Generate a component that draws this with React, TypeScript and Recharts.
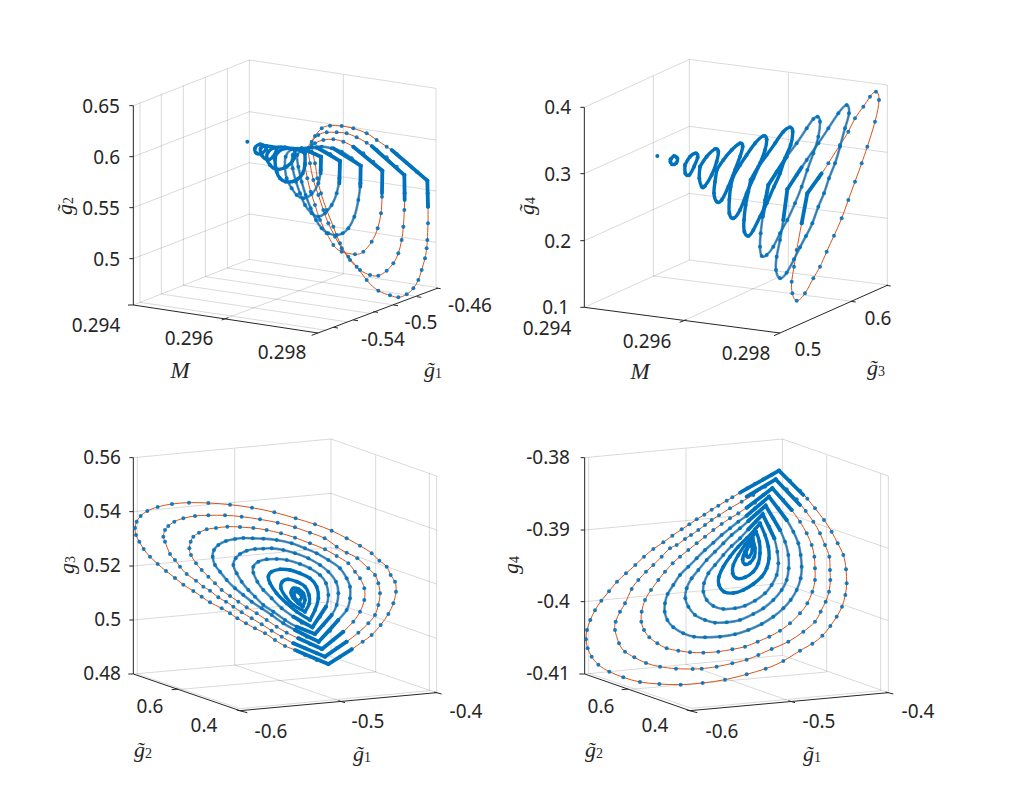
import { ScatterChart, Scatter, XAxis, YAxis, ReferenceLine } from 'recharts';

type Pt = [number, number];
type Seg = [number, number, number, number];

const BLUE = '#0072BD';
const ORANGE = '#D95319';
const INK = '#262626';

// all curve values below are projected positions (3 units = 1px)

// ---------- top left: M, g1, g2 ----------
const loopsA: Pt[][] = [
  [[922,392],[890,365],[860,338],[830,312],[800,290],[770,270],[740,250],[700,235],[665,228],[630,227],[605,235],[585,258],[575,285],[585,340],[592,385],[603,430],[620,480],[640,530],[660,580],[685,620],[710,650],[740,690],[775,722],[810,736],[835,742],[860,733],[880,715],[895,690],[905,660],[915,625],[920,595],[922,570],[924,520],[924,470],[923,430],[922,392]],
  [[853,375],[830,350],[800,322],[770,300],[740,278],[710,262],[680,250],[650,247],[620,247],[595,255],[575,275],[565,295],[570,340],[580,390],[595,435],[610,480],[625,520],[645,560],[665,595],[690,630],[720,660],[750,675],[775,677],[800,662],[820,640],[835,610],[845,570],[850,530],[853,480],[854,430],[853,375]],
  [[787,362],[760,335],[730,310],[700,290],[670,275],[640,268],[610,270],[585,280],[565,295],[553,305],[555,345],[562,385],[572,425],[585,465],[600,510],[620,550],[640,585],[665,605],[705,613],[730,605],[755,575],[773,535],[783,490],[786,440],[787,362]],
  [[722,347],[695,325],[665,305],[635,295],[605,290],[575,292],[550,300],[532,315],[535,350],[545,395],[557,435],[572,475],[588,510],[605,535],[625,550],[650,555],[668,550],[685,535],[703,500],[715,450],[721,400],[722,347]],
  [[660,333],[630,312],[600,298],[570,293],[540,297],[518,315],[518,355],[528,395],[540,430],[555,465],[575,490],[595,500],[615,490],[635,465],[650,430],[658,385],[660,333]],
  [[603,320],[575,305],[545,295],[515,298],[497,320],[495,350],[500,385],[515,415],[530,435],[550,445],[575,432],[595,400],[602,360],[603,320]],
];
const innerA: Pt[][] = [
  [[555,310],[530,297],[500,295],[475,305],[465,330],[470,365],[480,385],[497,395],[525,392],[548,370],[555,340],[555,310]],
  [[525,300],[495,292],[465,293],[445,305],[440,325],[450,345],[470,358],[500,350],[522,325],[525,300]],
  [[470,293],[440,288],[422,295],[425,315],[440,328],[458,322],[470,300]],
  [[440,290],[420,283],[405,295],[410,310],[425,310],[438,298],[440,290]],
];
const bendsA: Pt[][] = [
  [[815,300],[922,392],[924,470]],
  [[755,288],[853,375],[854,450]],
  [[700,290],[787,362],[786,430]],
  [[640,295],[722,347],[721,410]],
  [[590,292],[660,333],[658,400]],
  [[545,295],[603,320],[602,370]],
];
const startA: Pt[] = [[382,275]];

// ---------- top right: M, g3, g4 ----------
const loopsB: Pt[][] = [
  [[712,430],[745,385],[775,340],[810,285],[835,245],[855,205],[880,170],[900,140],[918,125],[927,150],[915,215],[892,290],[875,340],[855,395],[835,450],[815,505],[792,557],[770,605],[750,650],[730,685],[705,730],[680,752],[667,730],[665,695],[672,650],[680,600],[695,520],[712,430]],
  [[652,418],[680,375],[710,330],[745,280],[775,235],[805,190],[830,165],[837,190],[825,235],[810,290],[795,340],[777,385],[762,430],[745,470],[727,520],[708,558],[690,592],[672,628],[650,668],[630,685],[618,660],[620,620],[630,570],[640,510],[652,418]],
  [[595,405],[620,365],[650,320],[680,280],[710,235],[730,207],[743,200],[750,215],[745,260],[730,310],[712,360],[695,410],[675,460],[652,510],[630,550],[610,590],[590,615],[575,618],[570,590],[572,550],[578,500],[585,450],[595,405]],
];
const innerB: Pt[][] = [
  [[542,390],[565,350],[590,315],[615,280],[640,245],[660,232],[668,245],[662,285],[645,325],[630,370],[612,410],[590,460],[570,500],[550,540],[535,558],[523,545],[522,510],[527,465],[535,425],[542,390]],
  [[490,378],[510,345],[530,315],[555,280],[580,258],[590,268],[585,300],[570,340],[550,385],[530,430],[510,480],[490,505],[478,490],[478,450],[482,410],[490,378]],
  [[440,360],[460,330],[485,300],[510,280],[518,290],[510,320],[495,360],[475,410],[455,450],[440,455],[432,430],[435,395],[440,360]],
  [[390,350],[410,320],[435,297],[445,305],[440,335],[425,375],[405,408],[395,410],[388,385],[390,350]],
  [[345,345],[360,320],[378,310],[383,322],[372,350],[358,375],[346,370],[345,345]],
  [[302,328],[312,318],[322,325],[318,340],[306,343],[301,335],[302,328]],
];
const bendsB: Pt[][] = [
  [[695,520],[712,430],[755,370]],
  [[640,510],[652,418],[695,352]],
  [[578,500],[595,405],[650,320]],
];
const startB: Pt[] = [[262,318]];

// ---------- bottom left: g1, g2, g3 ----------
const loopsC: Pt[][] = [
  [[625,672],[660,650],[695,628],[728,605],[755,585],[782,555],[805,522],[820,490],[828,455],[825,425],[812,405],[800,380],[778,362],[755,340],[720,317],[680,295],[635,272],[585,253],[527,235],[463,217],[396,203],[330,194],[265,189],[207,188],[156,192],[113,201],[82,213],[62,228],[50,245],[45,264],[48,285],[58,305],[71,327],[90,350],[113,372],[138,393],[165,414],[190,434],[220,453],[245,470],[270,487],[305,505],[330,520],[352,535],[378,550],[405,565],[435,580],[465,600],[495,618],[525,630],[555,645],[590,660],[625,672]],
  [[615,650],[650,625],[680,605],[715,578],[745,550],[765,525],[775,495],[780,460],[775,430],[765,405],[745,385],[712,355],[680,338],[650,320],[614,295],[570,278],[525,262],[473,248],[420,238],[365,230],[315,226],[265,226],[225,228],[190,235],[163,245],[145,258],[135,270],[130,290],[135,305],[150,342],[165,360],[180,380],[200,402],[228,422],[250,440],[270,452],[295,472],[318,485],[340,500],[365,517],[395,535],[425,553],[455,572],[485,590],[520,610],[555,625],[590,640],[615,650]],
  [[606,627],[640,600],[670,575],[700,545],[720,515],[733,480],[733,445],[720,415],[705,395],[685,370],[650,348],[615,328],[570,310],[525,293],[483,280],[440,270],[400,264],[360,261],[322,260],[288,264],[260,268],[237,278],[220,290],[212,305],[208,325],[213,345],[228,370],[245,390],[265,410],[285,430],[305,450],[330,468],[355,485],[380,502],[410,520],[440,540],[470,560],[500,578],[535,595],[570,612],[606,627]],
  [[596,605],[630,572],[655,540],[680,510],[690,475],[690,440],[680,415],[660,385],[625,360],[590,340],[555,325],[515,310],[470,300],[430,296],[398,295],[370,294],[345,297],[318,303],[295,315],[282,330],[278,350],[285,375],[300,395],[320,420],[345,445],[370,465],[395,485],[425,505],[455,525],[490,550],[525,570],[560,590],[596,605]],
  [[585,582],[610,555],[635,525],[650,495],[655,460],[648,425],[625,395],[600,375],[565,355],[525,340],[490,330],[455,325],[430,326],[405,327],[380,332],[360,342],[347,355],[340,375],[350,400],[365,425],[385,450],[405,470],[430,495],[460,515],[495,540],[530,560],[585,582]],
  [[577,562],[600,530],[618,500],[625,465],[618,430],[600,405],[570,385],[540,372],[500,360],[470,357],[440,358],[415,365],[400,380],[400,398],[412,425],[430,450],[455,475],[485,505],[520,530],[545,548],[577,562]],
];
const innerC: Pt[][] = [
  [[570,540],[585,510],[595,475],[590,440],[570,415],[540,400],[510,390],[480,388],[455,395],[445,410],[450,430],[470,460],[500,490],[530,515],[570,540]],
  [[555,515],[568,490],[567,465],[555,440],[530,425],[505,418],[487,425],[483,445],[497,470],[520,495],[555,515]],
  [[548,500],[555,480],[550,460],[535,447],[520,445],[513,458],[520,475],[535,490],[548,500]],
  [[540,480],[545,470],[535,457],[525,455],[522,465],[530,480],[540,490]],
];
const bendsC: Pt[][] = [
  [[530,632],[625,672],[695,628]],
  [[520,610],[615,650],[680,605]],
  [[535,595],[606,627],[670,575]],
  [[525,570],[596,605],[655,540]],
  [[530,560],[585,582],[635,525]],
  [[520,530],[577,562],[618,500]],
];

// ---------- bottom right: g1, g2, g4 ----------
const loopsD: Pt[][] = [
  [[627,92],[660,122],[690,152],[712,176],[735,205],[762,240],[785,275],[803,310],[820,345],[828,388],[830,430],[826,465],[816,500],[800,530],[781,558],[757,587],[727,611],[690,632],[640,663],[587,686],[530,703],[465,719],[398,729],[332,734],[268,732],[210,726],[160,712],[118,695],[85,674],[65,650],[53,625],[48,598],[51,570],[61,540],[75,511],[94,482],[117,454],[141,425],[168,400],[196,375],[222,350],[250,327],[280,307],[307,287],[335,268],[358,253],[380,238],[403,224],[425,209],[445,197],[470,182],[487,172],[510,158],[532,145],[555,131],[580,118],[605,104],[627,92]],
  [[617,118],[650,148],[680,178],[707,213],[730,245],[750,280],[765,315],[778,350],[780,390],[781,420],[777,455],[767,485],[752,515],[735,545],[700,575],[655,605],[605,627],[565,645],[530,659],[487,670],[440,680],[395,686],[368,687],[318,686],[270,680],[228,669],[193,652],[165,635],[147,610],[135,570],[137,545],[150,515],[165,490],[185,447],[205,420],[228,395],[250,375],[275,350],[300,325],[320,315],[345,297],[363,285],[385,270],[405,255],[425,240],[447,226],[480,205],[515,185],[550,165],[585,140],[617,118]],
  [[607,145],[640,180],[665,210],[690,245],[710,280],[725,315],[733,350],[735,385],[735,420],[727,455],[712,490],[690,520],[660,550],[630,572],[598,590],[563,605],[525,620],[487,628],[445,635],[400,638],[360,637],[325,632],[290,625],[262,610],[238,592],[222,570],[214,545],[215,515],[225,480],[243,450],[265,420],[285,395],[308,370],[330,350],[355,330],[380,310],[405,290],[430,270],[455,252],[480,235],[505,220],[530,203],[555,188],[580,165],[607,145]],
  [[597,170],[625,205],[650,240],[670,275],[685,310],[692,345],[695,380],[692,415],[680,450],[662,480],[640,505],[610,530],[575,552],[535,570],[495,583],[450,590],[405,592],[372,590],[340,580],[310,562],[292,540],[284,515],[285,490],[293,462],[310,435],[330,405],[355,380],[380,355],[405,330],[430,308],[455,285],[480,265],[505,245],[530,227],[555,205],[580,185],[597,170]],
  [[587,197],[610,235],[630,270],[645,305],[655,345],[656,385],[650,420],[635,450],[610,480],[580,505],[550,522],[510,540],[470,547],[435,548],[405,540],[375,525],[355,500],[346,475],[350,445],[365,415],[385,390],[410,360],[435,335],[460,310],[485,285],[510,265],[535,243],[560,220],[587,197]],
  [[578,223],[598,260],[613,295],[622,335],[625,370],[620,405],[605,435],[585,460],[555,482],[525,497],[495,505],[460,507],[430,498],[410,480],[400,455],[402,430],[415,400],[435,375],[460,345],[485,318],[510,295],[535,268],[558,245],[578,223]],
];
const innerD: Pt[][] = [
  [[570,250],[585,285],[595,320],[597,355],[590,385],[575,410],[550,432],[520,450],[490,459],[462,455],[447,435],[447,410],[460,380],[480,350],[505,320],[530,295],[555,268],[570,250]],
  [[558,275],[568,305],[570,340],[565,370],[550,395],[525,412],[500,415],[488,400],[490,375],[505,345],[525,315],[545,293],[558,275]],
  [[548,295],[555,325],[553,350],[540,368],[525,373],[518,358],[525,335],[538,312],[548,295]],
  [[543,310],[547,330],[538,350],[530,348],[530,330],[538,318],[543,310]],
];
const bendsD: Pt[][] = [
  [[515,155],[627,92],[700,165]],
  [[530,170],[617,118],[690,195]],
  [[530,203],[607,145],[665,210]],
  [[530,227],[597,170],[650,240]],
  [[535,243],[587,197],[630,270]],
  [[535,268],[578,223],[613,295]],
];

// ---------- axes box (light grid lines, dark axis lines and ticks) ----------
const gridA: Seg[] = [
  [40,167,388,30],[388,30,948,115],[388,30,388,628],[948,115,948,712],[670,74,670,672],
  [60,158,60,757],[124,133,124,732],[190,107,190,706],[256,81,256,680],[322,56,322,654],
  [40,320,388,185],[40,473,388,338],[40,626,388,492],[40,765,388,628],
  [388,185,948,270],[388,338,948,423],[388,492,948,577],[388,628,948,712],
  [322,654,882,738],[256,680,816,764],[190,706,750,790],[124,732,684,816],[60,757,620,841],[670,672,315,806],
];
const axisA: Seg[] = [
  [40,167,40,765],[40,765,594,849],[594,849,954,714],
  [28,167,40,167],[28,320,40,320],[28,473,40,473],[28,626,40,626],[24,765,40,765],
  [305,810,325,803],[575,856,594,849],
  [640,832,654,834],[700,810,714,812],[760,785,774,787],[820,765,834,767],[890,740,904,742],[948,714,962,716],
];
const gridB: Seg[] = [
  [43,172,358,28],[358,28,952,105],[358,28,358,630],[952,105,952,705],[655,68,655,668],[250,78,250,678],
  [43,371,358,229],[43,572,358,430],[43,772,358,630],
  [358,229,952,307],[358,430,952,505],[358,630,952,705],
  [250,678,855,755],[655,668,339,813],
];
const axisB: Seg[] = [
  [43,172,43,772],[43,772,630,849],[630,849,954,705],
  [31,172,43,172],[31,371,43,371],[31,572,43,572],[31,772,43,772],
  [329,817,349,809],[612,857,630,849],
  [843,754,857,756],[948,706,962,708],
];
const gridC: Seg[] = [
  [40,53,633,-3],[633,-3,950,108],[633,-3,633,650],[950,108,950,758],
  [52,52,52,702],[344,26,344,675],[767,46,767,696],[928,100,928,752],
  [40,215,633,160],[40,378,633,323],[40,540,633,485],[40,702,633,650],
  [633,160,950,270],[633,323,950,432],[633,485,950,595],[633,650,950,758],
  [344,675,665,785],[160,750,767,696],[52,702,360,806],[360,806,928,752],
];
const axisC: Seg[] = [
  [40,53,40,702],[40,702,360,812],[360,812,950,758],
  [28,53,40,53],[28,215,40,215],[28,378,40,378],[28,540,40,540],[25,702,40,702],
  [155,749,175,747],[350,810,382,818],[655,782,675,788],[942,756,965,762],
];
const gridD: Seg[] = [
  [44,53,637,-3],[637,-3,955,108],[637,-3,637,646],[955,108,955,758],
  [56,52,56,700],[348,26,348,673],[770,46,770,696],[932,100,932,752],
  [44,270,637,215],[44,485,637,430],[44,702,637,646],
  [637,215,955,325],[637,430,955,542],[637,646,955,758],
  [348,673,650,780],[160,750,770,696],[56,700,365,805],[365,805,932,752],
];
const axisD: Seg[] = [
  [44,53,44,702],[44,702,360,812],[360,812,955,758],
  [32,53,44,53],[32,270,44,270],[32,485,44,485],[28,702,44,702],
  [155,749,175,747],[350,810,382,818],[655,782,675,788],[947,756,970,762],
];

// ---------- text ----------
const ticksA = ['0.65', '0.6', '0.55', '0.5', '0.294', '0.296', '0.298', '-0.54', '-0.5', '-0.46'];
const ticksB = ['0.4', '0.3', '0.2', '0.1', '0.294', '0.296', '0.298', '0.5', '0.6'];
const ticksC = ['0.56', '0.54', '0.52', '0.5', '0.48', '0.6', '0.4', '-0.6', '-0.5', '-0.4'];
const ticksD = ['-0.38', '-0.39', '-0.4', '-0.41', '0.6', '0.4', '-0.6', '-0.5', '-0.4'];

// page pixels of each tick label: x, y, anchor
const tickPosA: [number, number, string][] = [[120,106,'end'],[120,157,'end'],[120,208,'end'],[120,259,'end'],[96,325,'middle'],[189,338,'middle'],[282,352,'middle'],[383,339,'middle'],[421,322,'middle'],[470,305,'middle']];
const tickPosB: [number, number, string][] = [[571,107,'end'],[571,174,'end'],[571,241,'end'],[569,307,'end'],[547,328,'middle'],[647,341,'middle'],[746,353,'middle'],[808,349,'middle'],[878,318,'middle']];
const tickPosC: [number, number, string][] = [[121,457,'end'],[121,511,'end'],[121,565,'end'],[121,619,'end'],[121,673,'end'],[150,706,'middle'],[204,725,'middle'],[271,731,'middle'],[368,721,'middle'],[466,711,'middle']];
const tickPosD: [number, number, string][] = [[570,457,'end'],[570,529,'end'],[570,601,'end'],[570,673,'end'],[601,706,'middle'],[655,725,'middle'],[722,731,'middle'],[819,721,'middle'],[918,711,'middle']];

type MathLabel = { base: string; sub?: string; x: number; y: number; rot?: boolean };
const mathA: MathLabel[] = [
  { base: 'M', x: 180, y: 370 }, { base: 'g\u0303', sub: '1', x: 433, y: 369 }, { base: 'g\u0303', sub: '2', x: 64, y: 206, rot: true },
];
const mathB: MathLabel[] = [
  { base: 'M', x: 640, y: 371 }, { base: 'g\u0303', sub: '3', x: 876, y: 367 }, { base: 'g\u0303', sub: '4', x: 526, y: 206, rot: true },
];
const mathC: MathLabel[] = [
  { base: 'g\u0303', sub: '2', x: 143, y: 749 }, { base: 'g\u0303', sub: '1', x: 362, y: 753 }, { base: 'g', sub: '3', x: 66, y: 565, rot: true },
];
const mathD: MathLabel[] = [
  { base: 'g\u0303', sub: '2', x: 594, y: 749 }, { base: 'g\u0303', sub: '1', x: 812, y: 753 }, { base: 'g', sub: '4', x: 510, y: 565, rot: true },
];

const toXY = (pts: Pt[]) => pts.map(([x, y]) => ({ x, y }));
const noMark = () => <g />;

function Panel({ left, top, width, ox, oy, grid, axis, loops, inner, bends, chainFrom, start = [], ticks, tickPos, math }: {
  left: number; top: number; width: number; ox: number; oy: number; grid: Seg[]; axis: Seg[]; loops: Pt[][]; inner: Pt[][]; bends: Pt[][];
  chainFrom: number; start?: Pt[]; ticks: string[]; tickPos: [number, number, string][]; math: MathLabel[];
}) {
  const all = [...loops, ...inner];
  // text sits in page pixels, the chart works in projected units
  const ux = (px: number) => (px - ox) * 3;
  const uy = (py: number) => (py - oy) * 3;
  const tickData = ticks.map((t, i) => ({ x: ux(tickPos[i][0]), y: uy(tickPos[i][1]), t, anchor: tickPos[i][2] }));
  const mathData = math.map((m) => ({ ...m, x: ux(m.x), y: uy(m.y) }));
  return (
    <div style={{ position: 'absolute', left, top, width, height: 400 }}>
      <ScatterChart width={width} height={400} margin={{ top: 0, right: 0, bottom: 0, left: 0 }}>
        <XAxis type="number" dataKey="x" hide domain={[ux(left), ux(left + width)]} allowDataOverflow />
        <YAxis type="number" dataKey="y" hide reversed domain={[uy(top), uy(top + 400)]} allowDataOverflow />
        {grid.map((s, i) => (
          <ReferenceLine key={'g' + i} segment={[{ x: s[0], y: s[1] }, { x: s[2], y: s[3] }]} stroke={INK} strokeOpacity={0.17} strokeWidth={1} />
        ))}
        {axis.map((s, i) => (
          <ReferenceLine key={'a' + i} segment={[{ x: s[0], y: s[1] }, { x: s[2], y: s[3] }]} stroke={INK} strokeWidth={1} />
        ))}
        {all.map((l, i) => (
          <Scatter key={'o' + i} data={toXY(l)} line={{ stroke: ORANGE, strokeWidth: 1 }} lineJointType="natural" shape={noMark} isAnimationActive={false} />
        ))}
        {loops.slice(chainFrom).map((l, i) => (
          <Scatter key={'c' + i} data={toXY(l)} line={{ stroke: BLUE, strokeWidth: 2.6, strokeOpacity: 0.7 }} lineJointType="natural" shape={noMark} isAnimationActive={false} />
        ))}
        {all.map((l, i) => (
          <Scatter key={'d' + i} data={toXY(l)} isAnimationActive={false}
            shape={(p: any) => <circle cx={p.cx} cy={p.cy} r={2} fill={BLUE} fillOpacity={0.9} />} />
        ))}
        {inner.map((l, i) => (
          <Scatter key={'i' + i} data={toXY(l)} line={{ stroke: BLUE, strokeWidth: 3.4, strokeLinejoin: 'round' }} lineJointType="natural" shape={noMark} isAnimationActive={false} />
        ))}
        {bends.map((l, i) => (
          <Scatter key={'b' + i} data={toXY(l)} line={{ stroke: BLUE, strokeWidth: 3.8, strokeLinecap: 'round', strokeLinejoin: 'miter' }} shape={noMark} isAnimationActive={false} />
        ))}
        {start.length > 0 && (
          <Scatter data={toXY(start)} isAnimationActive={false}
            shape={(p: any) => <circle cx={p.cx} cy={p.cy} r={2} fill={BLUE} />} />
        )}
        <Scatter data={tickData} isAnimationActive={false}
          shape={(p: any) => (
            <text x={p.cx} y={p.cy} textAnchor={p.anchor} dominantBaseline="central" fontFamily="'Noto Sans'" fontSize={19} fill={INK}>{p.t}</text>
          )} />
        <Scatter data={mathData} isAnimationActive={false}
          shape={(p: any) => (
            <text x={p.cx} y={p.cy} textAnchor="middle" dominantBaseline="central" fontFamily="'Liberation Serif'" fontSize={p.base === 'M' ? 23 : 22} fill={INK}
              transform={p.rot ? `rotate(-90 ${p.cx} ${p.cy})` : undefined}>
              <tspan fontStyle="italic">{p.base}</tspan>
              {p.sub && <tspan fontSize={14} dy={4}>{p.sub}</tspan>}
            </text>
          )} />
      </ScatterChart>
    </div>
  );
}

export default function App() {
  return (
    <div style={{ position: 'absolute', left: 0, top: 0, width: 1024, height: 800, background: '#fff' }}>
      <Panel left={0} top={0} width={498} ox={120} oy={50} grid={gridA} axis={axisA} loops={loopsA} inner={innerA} bends={bendsA} chainFrom={3} start={startA} ticks={ticksA} tickPos={tickPosA} math={mathA} />
      <Panel left={498} top={0} width={526} ox={570} oy={50} grid={gridB} axis={axisB} loops={loopsB} inner={innerB} bends={bendsB} chainFrom={1} start={startB} ticks={ticksB} tickPos={tickPosB} math={mathB} />
      <Panel left={0} top={400} width={498} ox={120} oy={440} grid={gridC} axis={axisC} loops={loopsC} inner={innerC} bends={bendsC} chainFrom={3} ticks={ticksC} tickPos={tickPosC} math={mathC} />
      <Panel left={498} top={400} width={526} ox={570} oy={440} grid={gridD} axis={axisD} loops={loopsD} inner={innerD} bends={bendsD} chainFrom={3} ticks={ticksD} tickPos={tickPosD} math={mathD} />
    </div>
  );
}
